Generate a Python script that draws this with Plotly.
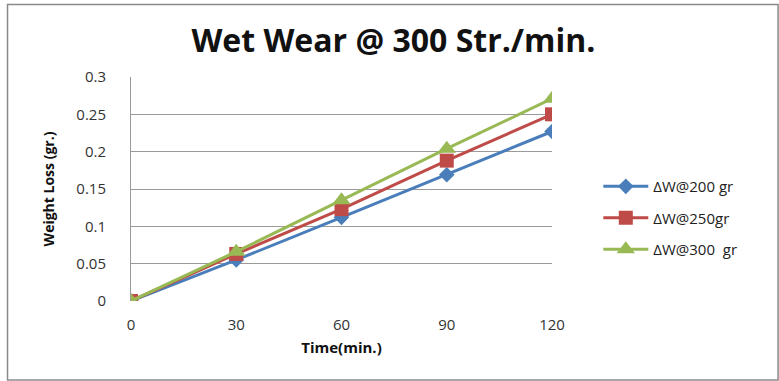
import plotly.graph_objects as go

time_min = [0, 30, 60, 90, 120]
w200 = [0, 0.055, 0.112, 0.169, 0.227]
w250 = [0, 0.063, 0.123, 0.188, 0.250]
w300 = [0, 0.066, 0.135, 0.204, 0.271]
names = ["ΔW@200 gr", "ΔW@250gr", "ΔW@300  gr"]
y_ticks = [0, 0.05, 0.1, 0.15, 0.2, 0.25, 0.3]
y_tick_labels = ["0", "0.05", "0.1", "0.15", "0.2", "0.25", "0.3"]

colors = ["#4a7ebb", "#be4b48", "#98b954"]
symbols = ["diamond", "square", "triangle-up"]
sizes = [12, 14, 16]

fig = go.Figure()
for i, (vals, name, c, s, sz) in enumerate(zip([w200, w250, w300], names, colors, symbols, sizes)):
    fig.add_trace(go.Scatter(
        x=time_min, y=vals, name=name, mode="lines+markers",
        legendgroup=f"g{i}",
        line=dict(color=c, width=3),
        marker=dict(symbol=s, size=sz, color=c),
    ))

font_family = "'Open Sans', Lato, sans-serif"
fig.update_layout(
    width=779, height=381,
    margin=dict(l=131, r=227, t=77, b=80),
    paper_bgcolor="white", plot_bgcolor="white",
    font=dict(family=font_family, color="#333333", size=14),
    title=dict(text="<b>Wet Wear @ 300 Str./min.</b>", x=0.505, xanchor="center",
               y=0.893, yanchor="middle",
               font=dict(size=32, color="#111111", family=font_family)),
    showlegend=True,
    legend=dict(x=1.11, xanchor="left", y=0.37, yanchor="middle",
                font=dict(size=15, color="#222222"), bgcolor="rgba(0,0,0,0)",
                itemwidth=45, tracegroupgap=9),
    xaxis=dict(range=[0, 120], tickvals=time_min, ticktext=[str(t) for t in time_min],
               showgrid=False, zeroline=False, showline=False,
               tickfont=dict(size=15, color="#333333"), ticks="", ticklabelstandoff=13,
               title=dict(text="<b>Time(min.)</b>", font=dict(size=15, color="#111111"), standoff=9)),
    yaxis=dict(range=[0, 0.3], tickvals=y_ticks, ticktext=y_tick_labels,
               showgrid=True, gridcolor="#9a9a9a", gridwidth=1, zeroline=False,
               showline=True, linecolor="#9a9a9a", linewidth=1,
               tickfont=dict(size=15, color="#333333"), ticks="", ticklabelstandoff=21,
               title=dict(text="<b>Weight Loss (gr.)</b>", font=dict(size=14, color="#111111"), standoff=18)),
    shapes=[dict(type="rect", xref="paper", yref="paper",
                 x0=-0.2933, x1=1.537, y0=-0.3527, y1=1.3237,
                 line=dict(color="#8a8a8a", width=1.5), fillcolor="rgba(0,0,0,0)", layer="below")],
)
fig.write_html("out.html")
